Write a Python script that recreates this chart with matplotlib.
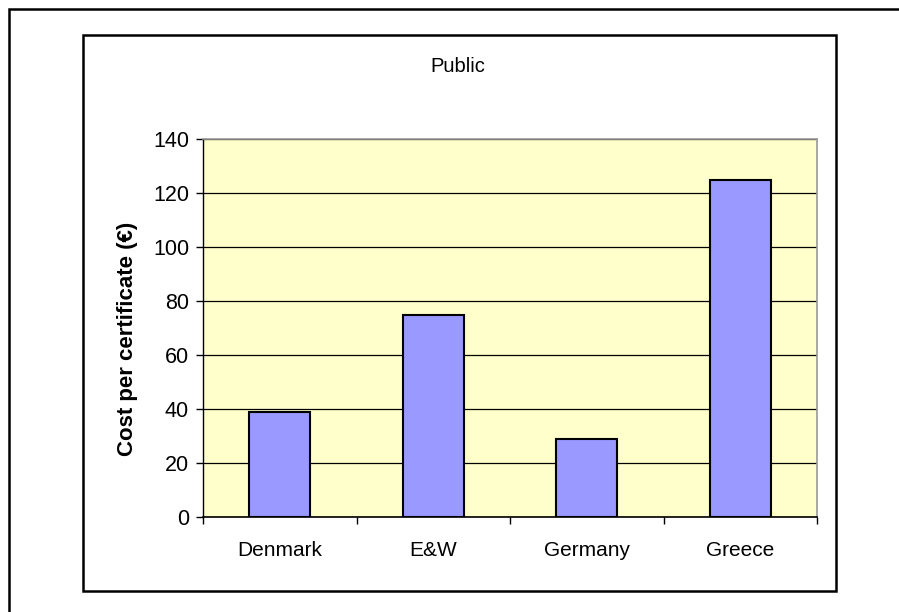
import matplotlib.pyplot as plt
from matplotlib.patches import Rectangle

plt.rcParams['font.family'] = ['Liberation Sans', 'DejaVu Sans']

countries = ["Denmark", "E&W", "Germany", "Greece"]
cost = [39, 75, 29, 125]
yticks = [0, 20, 40, 60, 80, 100, 120, 140]

W, H = 899, 612
fig = plt.figure(figsize=(W / 100, H / 100), dpi=100)

# outer page frame and inner chart frame (pixel boxes -> figure fractions)
def box(x0, y0, x1, y1, lw):
    fig.patches.append(Rectangle((x0 / W, 1 - y1 / H), (x1 - x0) / W, (y1 - y0) / H,
                                 transform=fig.transFigure, fill=False,
                                 edgecolor="black", linewidth=lw))

box(9, 9, 905, 620, 1.8)
box(83, 35, 836, 591, 1.8)

ax = fig.add_axes([203 / W, 1 - 517 / H, 614 / W, 378 / H])
ax.set_facecolor("#FFFFCC")

x = range(len(countries))
ax.bar(x, cost, width=0.4, color="#9999FF", edgecolor="black", linewidth=1.5, zorder=3)

ax.set_xlim(-0.5, len(countries) - 0.5)
ax.set_ylim(0, 140)
ax.set_yticks(yticks)
ax.yaxis.grid(True, color="black", linewidth=0.9, zorder=1)
ax.set_axisbelow(True)

# category labels centred, tick marks between categories
ax.set_xticks(list(x))
ax.set_xticklabels(countries, fontsize=15)
ax.tick_params(axis="x", which="major", length=0, pad=17)
ax.set_xticks([i - 0.5 for i in range(len(countries) + 1)], minor=True)
ax.tick_params(axis="x", which="minor", length=5, width=1, direction="out")
ax.tick_params(axis="y", labelsize=15.5, length=5, width=1, direction="out", pad=5)

for side in ("top", "right"):
    ax.spines[side].set_color("#999999")
    ax.spines[side].set_linewidth(1.2)
ax.spines["left"].set_linewidth(1)
ax.spines["bottom"].set_linewidth(1.2)

ax.set_ylabel("Cost per certificate (€)", fontsize=16, fontweight="bold")
ax.yaxis.set_label_coords(138 / W, 1 - 339 / H, transform=fig.transFigure)
fig.text(458 / W, 1 - 67 / H, "Public", ha="center", va="center", fontsize=14.5)

fig.savefig("out.png", dpi=100)
